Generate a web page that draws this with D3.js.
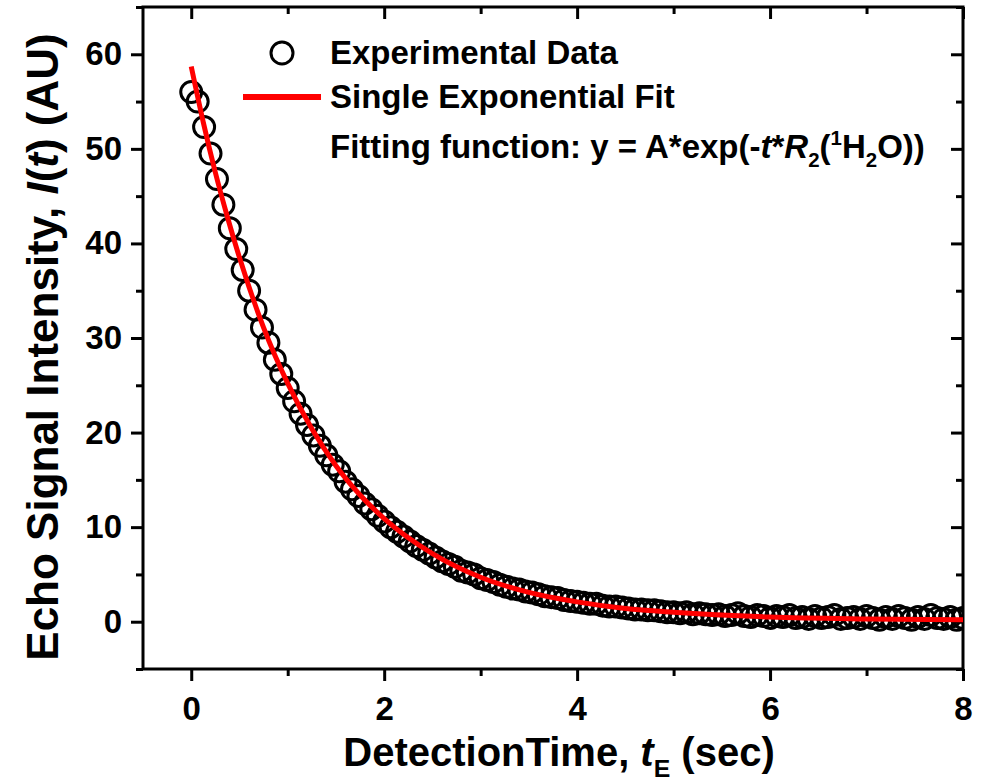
<!DOCTYPE html>
<html>
<head>
<meta charset="utf-8">
<script src="https://cdn.jsdelivr.net/npm/d3@7.9.0/dist/d3.min.js"></script>
<style>
  body { margin: 0; background: #fff; }
  text { font-family: "Liberation Sans", Arial, sans-serif; font-weight: bold; fill: #000; }
</style>
</head>
<body>
<svg id="chart" width="992" height="784"></svg>
<script>
// echo times: 121 evenly spaced echoes over 0..8 s
const echoTimes = d3.range(121).map(i => i * 8 / 120);

const echoSignal = [
  56.0, 55.0, 52.3, 49.5, 46.8, 44.1, 41.6, 39.4, 37.2, 35.0,
  33.0, 31.1, 29.5, 27.7, 26.2, 24.7, 23.3, 22.0, 20.8, 19.7,
  18.6, 17.6, 16.6, 15.9, 14.8, 14.0, 13.3, 12.5, 11.9, 11.2,
  10.6, 10.0, 9.5, 9.0, 8.5, 8.0, 7.6, 7.2, 6.8, 6.4,
  6.1, 5.8, 5.4, 5.2, 5.0, 4.6, 4.4, 4.2, 3.9, 3.7,
  3.5, 3.4, 3.2, 3.1, 2.9, 2.7, 2.6, 2.5, 2.3, 2.2,
  2.1, 2.0, 1.9, 1.9, 1.7, 1.6, 1.6, 1.5, 1.4, 1.3,
  1.3, 1.2, 1.2, 1.1, 1.0, 1.0, 0.9, 1.0, 0.8, 0.9,
  0.8, 0.7, 0.8, 0.6, 0.7, 0.9, 0.6, 0.5, 0.7, 0.6,
  0.4, 0.6, 0.5, 0.7, 0.4, 0.5, 0.3, 0.6, 0.4, 0.5,
  0.7, 0.3, 0.4, 0.5, 0.3, 0.6, 0.4, 0.2, 0.5, 0.3,
  0.6, 0.4, 0.2, 0.5, 0.3, 0.7, 0.4, 0.3, 0.5, 0.2,
  0.4
];

// single exponential fit
const fitTimes  = [0, 0.125, 0.25, 0.375, 0.5, 0.75, 1, 1.25, 1.5, 1.75, 2, 2.5, 3, 3.5, 4, 4.5, 5, 6, 7, 8];
const fitValues = [58.7, 52.8, 47.5, 42.8, 38.5, 31.1, 25.2, 20.4, 16.5, 13.4, 10.9, 7.2, 4.7, 3.1, 2.1, 1.4, 1.0, 0.5, 0.3, 0.2];

const xMajor = [0, 2, 4, 6, 8];
const xMinor = [1, 3, 5, 7];
const yMajor = [0, 10, 20, 30, 40, 50, 60];
const yMinor = [-5, 5, 15, 25, 35, 45, 55, 65];

const plot = { left: 143, right: 963, top: 7, bottom: 669 };

const svg = d3.select('#chart');

const x = d3.scaleLinear().domain([-0.5, 8]).range([plot.left, plot.right]);
const y = d3.scaleLinear().domain([-5, 65]).range([plot.bottom, plot.top]);

svg.append('defs').append('clipPath').attr('id', 'clip')
  .append('rect')
  .attr('x', plot.left).attr('y', plot.top)
  .attr('width', plot.right - plot.left).attr('height', plot.bottom - plot.top);

function styleAxis(g) {
  g.select('.domain').remove();
  g.selectAll('line').attr('stroke', '#000').attr('stroke-width', 3);
  g.selectAll('text').attr('font-size', 33).attr('font-family', null);
}

// bottom axis (outward)
svg.append('g').attr('transform', `translate(0,${plot.bottom})`)
  .call(d3.axisBottom(x).tickValues(xMajor).tickSize(12).tickPadding(16).tickFormat(d3.format('d')))
  .call(styleAxis);
svg.append('g').attr('transform', `translate(0,${plot.bottom})`)
  .call(d3.axisBottom(x).tickValues(xMinor).tickSize(7).tickFormat(''))
  .call(styleAxis);

// top mirror (inward)
svg.append('g').attr('transform', `translate(0,${plot.top})`)
  .call(d3.axisBottom(x).tickValues(xMajor).tickSize(12).tickFormat(''))
  .call(styleAxis);
svg.append('g').attr('transform', `translate(0,${plot.top})`)
  .call(d3.axisBottom(x).tickValues(xMinor).tickSize(7).tickFormat(''))
  .call(styleAxis);

// left axis (outward)
svg.append('g').attr('transform', `translate(${plot.left},0)`)
  .call(d3.axisLeft(y).tickValues(yMajor).tickSize(12).tickPadding(9).tickFormat(d3.format('d')))
  .call(styleAxis);
svg.append('g').attr('transform', `translate(${plot.left},0)`)
  .call(d3.axisLeft(y).tickValues(yMinor).tickSize(7).tickFormat(''))
  .call(styleAxis);

// right mirror (inward)
svg.append('g').attr('transform', `translate(${plot.right},0)`)
  .call(d3.axisLeft(y).tickValues(yMajor).tickSize(12).tickFormat(''))
  .call(styleAxis);
svg.append('g').attr('transform', `translate(${plot.right},0)`)
  .call(d3.axisLeft(y).tickValues(yMinor).tickSize(7).tickFormat(''))
  .call(styleAxis);

// frame
svg.append('rect')
  .attr('x', plot.left).attr('y', plot.top)
  .attr('width', plot.right - plot.left).attr('height', plot.bottom - plot.top)
  .attr('fill', 'none').attr('stroke', '#000').attr('stroke-width', 3);

// data
const points = echoTimes.map((t, i) => ({ t, v: echoSignal[i] }));
svg.append('g').attr('clip-path', 'url(#clip)')
  .selectAll('circle')
  .data(points)
  .join('circle')
  .attr('cx', d => x(d.t))
  .attr('cy', d => y(d.v))
  .attr('r', 10.5)
  .attr('fill', 'none')
  .attr('stroke', '#000')
  .attr('stroke-width', 3);

// fit
const line = d3.line().x(d => x(d[0])).y(d => y(d[1])).curve(d3.curveMonotoneX);
svg.append('path')
  .attr('clip-path', 'url(#clip)')
  .attr('d', line(fitTimes.map((t, i) => [t, fitValues[i]])))
  .attr('fill', 'none')
  .attr('stroke', '#ff0000')
  .attr('stroke-width', 5);

function richText(sel, parts, size) {
  let shift = 0;
  parts.forEach(p => {
    const target = p.sub ? size * 0.28 : p.sup ? -size * 0.4 : 0;
    sel.append('tspan')
      .attr('dy', target - shift)
      .attr('font-size', p.sub || p.sup ? size * 0.62 : size)
      .attr('font-style', p.it ? 'italic' : null)
      .text(p.t);
    shift = target;
  });
}

// legend
svg.append('circle')
  .attr('cx', 282).attr('cy', 53).attr('r', 11)
  .attr('fill', 'none').attr('stroke', '#000').attr('stroke-width', 3);
svg.append('line')
  .attr('x1', 243).attr('x2', 321).attr('y1', 97).attr('y2', 97)
  .attr('stroke', '#ff0000').attr('stroke-width', 6);
svg.append('text').attr('x', 330).attr('y', 64).attr('font-size', 33).text('Experimental Data');
svg.append('text').attr('x', 330).attr('y', 108).attr('font-size', 33).text('Single Exponential Fit');

const fitLabel = svg.append('text').attr('x', 330).attr('y', 158).attr('font-size', 33);
richText(fitLabel, [
  { t: 'Fitting function: y = A*exp(-' },
  { t: 't', it: true },
  { t: '*' },
  { t: 'R', it: true },
  { t: '2', sub: true },
  { t: '(' },
  { t: '1', sup: true },
  { t: 'H' },
  { t: '2', sub: true },
  { t: 'O))' }
], 33);

// axis titles
const xTitle = svg.append('text').attr('x', 559).attr('y', 766).attr('text-anchor', 'middle').attr('font-size', 40);
richText(xTitle, [
  { t: 'DetectionTime, ' },
  { t: 't', it: true },
  { t: 'E', sub: true },
  { t: ' (sec)' }
], 40);

const yTitle = svg.append('text')
  .attr('transform', 'translate(58,347) rotate(-90)')
  .attr('text-anchor', 'middle').attr('font-size', 44);
richText(yTitle, [
  { t: 'Echo Signal Intensity, ' },
  { t: 'I', it: true },
  { t: '(' },
  { t: 't', it: true },
  { t: ') (AU)' }
], 44);
</script>
</body>
</html>
